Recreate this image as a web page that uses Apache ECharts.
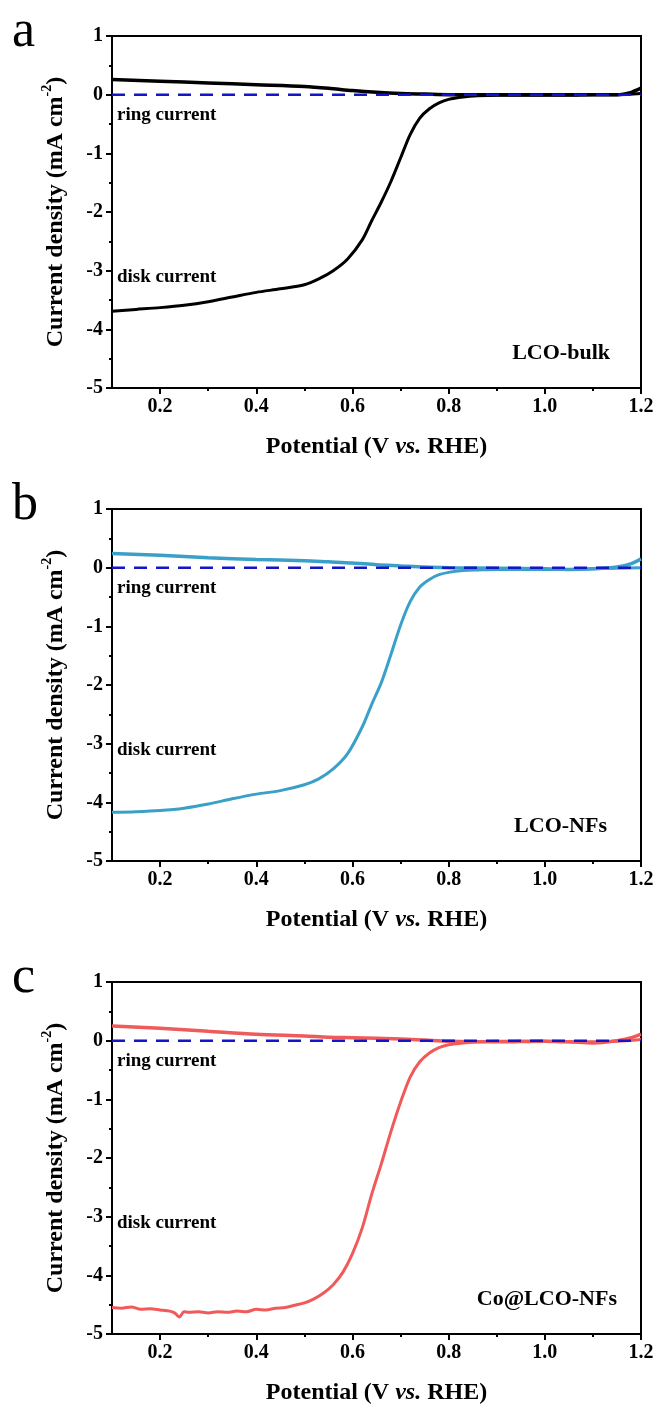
<!DOCTYPE html>
<html>
<head>
<meta charset="utf-8">
<script src="https://cdn.jsdelivr.net/npm/echarts@6/dist/echarts.min.js"></script>
<style>html,body{margin:0;padding:0;background:#fff}#c{width:658px;height:1408px}</style>
</head>
<body>
<div id="c"></div>
<script>
// ---------- data ----------
const panelLetters = ['a', 'b', 'c'];
const sampleNames = ['LCO-bulk', 'LCO-NFs', 'Co@LCO-NFs'];
const xMajorTicks = [0.2, 0.4, 0.6, 0.8, 1.0, 1.2];
const xMinorTicks = [0.3, 0.5, 0.7, 0.9, 1.1];
const yMajorTicks = [-5, -4, -3, -2, -1, 0, 1];
const yMinorTicks = [-4.5, -3.5, -2.5, -1.5, -0.5, 0.5];

const diskPotential = [0.10,0.15,0.20,0.25,0.30,0.35,0.40,0.45,0.50,0.53,0.56,0.59,0.62,0.64,0.66,0.68,0.70,0.72,0.74,0.76,0.78,0.80,0.83,0.86,0.90,0.95,1.00,1.05,1.10,1.15,1.20];
const diskA = [-3.69,-3.66,-3.63,-3.59,-3.53,-3.45,-3.37,-3.31,-3.24,-3.14,-3.00,-2.80,-2.48,-2.15,-1.83,-1.48,-1.08,-0.68,-0.40,-0.24,-0.14,-0.08,-0.04,-0.02,-0.01,-0.01,-0.01,-0.01,0.00,0.00,0.02];
const diskB = [-4.17,-4.16,-4.14,-4.10,-4.03,-3.94,-3.86,-3.80,-3.70,-3.60,-3.43,-3.17,-2.72,-2.33,-1.96,-1.48,-0.98,-0.58,-0.33,-0.20,-0.12,-0.08,-0.05,-0.04,-0.03,-0.03,-0.03,-0.03,-0.02,-0.01,0.00];

const diskPotentialC = [0.10,0.12,0.14,0.16,0.18,0.20,0.22,0.23,0.24,0.25,0.26,0.28,0.30,0.32,0.34,0.36,0.38,0.40,0.42,0.44,0.46,0.48,0.50,0.52,0.54,0.56,0.58,0.60,0.62,0.64,0.66,0.68,0.70,0.72,0.74,0.76,0.78,0.80,0.83,0.86,0.90,0.95,1.00,1.05,1.10,1.15,1.20];
const diskC = [-4.55,-4.56,-4.54,-4.58,-4.57,-4.59,-4.61,-4.64,-4.71,-4.62,-4.63,-4.62,-4.64,-4.62,-4.63,-4.61,-4.62,-4.58,-4.59,-4.56,-4.55,-4.51,-4.47,-4.40,-4.30,-4.16,-3.95,-3.63,-3.20,-2.62,-2.10,-1.55,-1.05,-0.62,-0.36,-0.21,-0.12,-0.07,-0.04,-0.02,-0.01,-0.01,-0.01,-0.02,-0.02,-0.01,0.02];

const ringPotential = [0.10,0.20,0.30,0.40,0.50,0.55,0.60,0.65,0.70,0.75,0.80,0.90,1.00,1.05,1.10,1.15,1.18,1.20];
const ringA = [0.26,0.23,0.20,0.17,0.14,0.11,0.07,0.04,0.02,0.01,0.00,0.00,0.00,0.00,0.00,0.00,0.04,0.11];
const ringB = [0.24,0.21,0.17,0.14,0.12,0.10,0.08,0.05,0.03,0.01,0.00,-0.01,-0.02,-0.03,-0.02,0.01,0.07,0.15];
const ringC = [0.25,0.21,0.16,0.11,0.08,0.06,0.05,0.04,0.03,0.01,-0.01,-0.02,-0.01,-0.02,-0.04,0.00,0.05,0.11];

const zeroPotential = [0.1, 1.2];
const zeroValues = [0, 0];

// ---------- build ----------
const FONT = '"Liberation Serif", "Times New Roman", serif';
const colors = ['#000000', '#3aa0c8', '#f05a5a'];
const dashColor = '#1414c8';
const gridTops = [36, 509, 982];
const GL = 112, GW = 529, GH = 352;

const disks = [[diskPotential, diskA], [diskPotential, diskB], [diskPotentialC, diskC]];
const rings = [ringA, ringB, ringC];
const zip = (xs, ys) => xs.map((x, i) => [x, ys[i]]);

const grid = [], xAxis = [], yAxis = [], series = [], graphic = [];
const sampleRight = [610, 607, 617];

gridTops.forEach((top, p) => {
  grid.push({left: GL, top: top, width: GW, height: GH, show: true, borderColor: '#000', borderWidth: 2, backgroundColor: 'transparent'});
  const xBase = {gridIndex: p, type: 'value', min: 0.1, max: 1.2, interval: 0.1, position: 'bottom', splitLine: {show: false}};
  xAxis.push(Object.assign({}, xBase, {
    axisLine: {show: true, onZero: false, lineStyle: {color: '#000', width: 2}},
    axisTick: {show: true, inside: false, length: 6, lineStyle: {color: '#000', width: 2}, customValues: xMajorTicks},
    axisLabel: {show: true, customValues: xMajorTicks, formatter: v => v.toFixed(1), margin: 9,
      fontFamily: FONT, fontWeight: 'bold', fontSize: 20, color: '#000'},
    name: '{t|Potential (V }{i|vs.}{t| RHE)}', nameLocation: 'middle', nameGap: 47,
    nameTextStyle: {fontFamily: FONT, fontWeight: 'bold', fontSize: 24, color: '#000',
      rich: {t: {fontFamily: FONT, fontWeight: 'bold', fontSize: 24, color: '#000'},
             i: {fontFamily: FONT, fontWeight: 'bold', fontStyle: 'italic', fontSize: 24, color: '#000'}}}
  }));
  xAxis.push(Object.assign({}, xBase, {
    axisLine: {show: false, onZero: false},
    axisTick: {show: true, inside: false, length: 3, lineStyle: {color: '#000', width: 2}, customValues: xMinorTicks},
    axisLabel: {show: false}
  }));
  const yBase = {gridIndex: p, type: 'value', min: -5, max: 1, interval: 1, position: 'left', splitLine: {show: false}};
  yAxis.push(Object.assign({}, yBase, {
    axisLine: {show: true, onZero: false, lineStyle: {color: '#000', width: 2}},
    axisTick: {show: true, inside: false, length: 6, lineStyle: {color: '#000', width: 2}, customValues: yMajorTicks},
    axisLabel: {show: true, customValues: yMajorTicks, margin: 9, fontFamily: FONT, fontWeight: 'bold', fontSize: 20, color: '#000'},
    name: '{t|Current density (mA cm}{s|-2}{t|)}', nameLocation: 'middle', nameGap: 44, nameRotate: 90,
    nameTextStyle: {fontFamily: FONT, fontWeight: 'bold', fontSize: 24, color: '#000',
      rich: {t: {fontFamily: FONT, fontWeight: 'bold', fontSize: 24, lineHeight: 28, color: '#000', verticalAlign: 'bottom'},
             s: {fontFamily: FONT, fontWeight: 'bold', fontSize: 14, lineHeight: 14, color: '#000', verticalAlign: 'top'}}}
  }));
  yAxis.push(Object.assign({}, yBase, {
    axisLine: {show: false, onZero: false},
    axisTick: {show: true, inside: false, length: 3, lineStyle: {color: '#000', width: 2}, customValues: yMinorTicks},
    axisLabel: {show: false}
  }));

  const xi = p * 2, yi = p * 2;
  series.push({type: 'line', xAxisIndex: xi, yAxisIndex: yi, data: zip(disks[p][0], disks[p][1]),
    showSymbol: false, smooth: 0.3, lineStyle: {color: colors[p], width: 3}, z: 2, silent: true, animation: false});
  series.push({type: 'line', xAxisIndex: xi, yAxisIndex: yi, data: zip(ringPotential, rings[p]),
    showSymbol: false, smooth: 0.3, lineStyle: {color: colors[p], width: 3.5}, z: 2, silent: true, animation: false});
  series.push({type: 'line', xAxisIndex: xi, yAxisIndex: yi, data: zip(zeroPotential, zeroValues),
    showSymbol: false, lineStyle: {color: dashColor, width: 2.5, type: [13, 9]}, z: 3, silent: true, animation: false});

  graphic.push({type: 'text', left: 12, top: top - 30, style: {text: panelLetters[p], font: '52px ' + FONT, fill: '#000'}});
  graphic.push({type: 'text', x: 117, y: top + 79, style: {text: 'ring current', font: 'bold 19px ' + FONT, fill: '#000', verticalAlign: 'middle'}});
  graphic.push({type: 'text', x: 117, y: top + 241, style: {text: 'disk current', font: 'bold 19px ' + FONT, fill: '#000', verticalAlign: 'middle'}});
  graphic.push({type: 'text', x: sampleRight[p], y: top + 317, style: {text: sampleNames[p], font: 'bold 22px ' + FONT, fill: '#000', align: 'right', verticalAlign: 'middle'}});
});

const chart = echarts.init(document.getElementById('c'), null, {renderer: 'canvas'});
chart.setOption({animation: false, backgroundColor: '#fff', grid, xAxis, yAxis, series, graphic});
</script>
</body>
</html>
